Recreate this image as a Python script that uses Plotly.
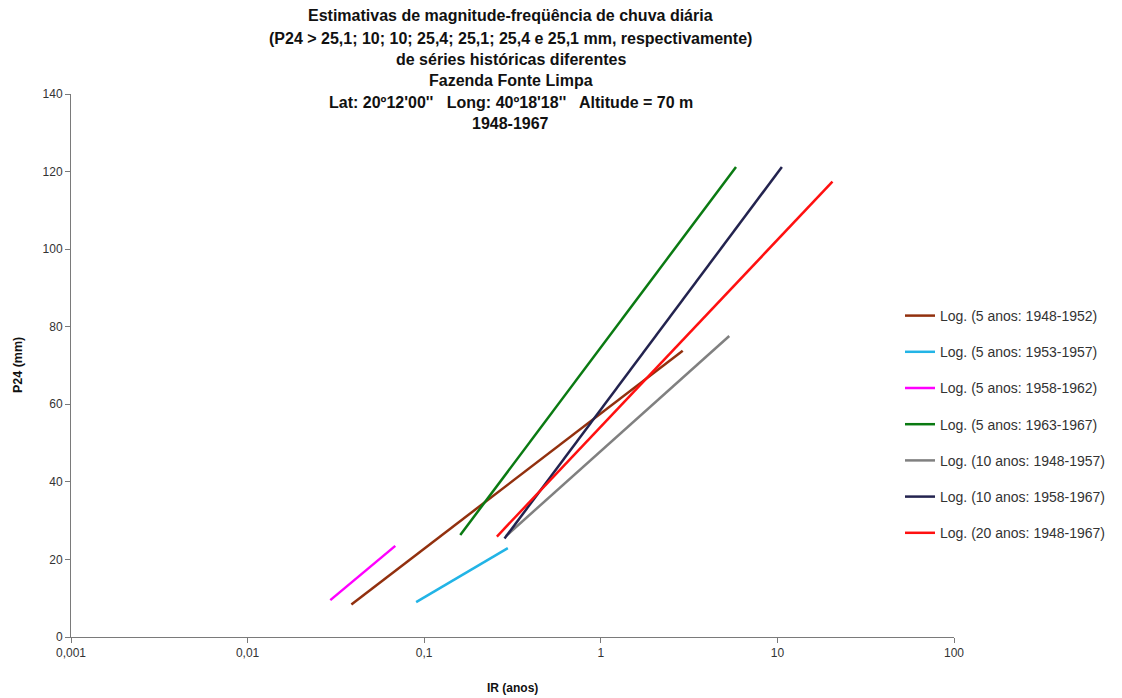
import plotly.graph_objects as go

# ---- data (trendline endpoints) ----
series_names = [
    "Log. (5 anos: 1948-1952)",
    "Log. (5 anos: 1953-1957)",
    "Log. (5 anos: 1958-1962)",
    "Log. (5 anos: 1963-1967)",
    "Log. (10 anos: 1948-1957)",
    "Log. (10 anos: 1958-1967)",
    "Log. (20 anos: 1948-1967)",
]
ir_1948_1952 = [0.0387, 2.91]
p24_1948_1952 = [8.4, 73.8]
ir_1953_1957 = [0.090, 0.2975]
p24_1953_1957 = [9.0, 22.9]
ir_1958_1962 = [0.0294, 0.0686]
p24_1958_1962 = [9.5, 23.5]
ir_1963_1967 = [0.160, 5.83]
p24_1963_1967 = [26.3, 121.2]
ir_1948_1957 = [0.29, 5.34]
p24_1948_1957 = [26.0, 77.6]
ir_1958_1967 = [0.285, 10.6]
p24_1958_1967 = [25.4, 121.2]
ir_1948_1967 = [0.258, 20.5]
p24_1948_1967 = [25.9, 117.4]

series_x = [ir_1948_1952, ir_1953_1957, ir_1958_1962, ir_1963_1967,
            ir_1948_1957, ir_1958_1967, ir_1948_1967]
series_y = [p24_1948_1952, p24_1953_1957, p24_1958_1962, p24_1963_1967,
            p24_1948_1957, p24_1958_1967, p24_1948_1967]
colors = ["#92300E", "#22B4E6", "#FF00FF", "#0A7A12", "#808080", "#23234F", "#FF1010"]

x_tickvals = [0.001, 0.01, 0.1, 1, 10, 100]
x_ticktext = ["0,001", "0,01", "0,1", "1", "10", "100"]
y_tickvals = [0, 20, 40, 60, 80, 100, 120, 140]

title_lines = [
    "Estimativas de magnitude-freqüência de chuva diária",
    "(P24 > 25,1; 10; 10; 25,4; 25,1; 25,4 e 25,1 mm, respectivamente)",
    "de séries históricas diferentes",
    "Fazenda Fonte Limpa",
    "Lat: 20º12'00''   Long: 40º18'18''   Altitude = 70 m",
    "1948-1967",
]

FONT = "Arial, Liberation Sans, sans-serif"
OFF = 8  # default page body margin
W, H = 1122 - OFF, 698 - OFF
PL, PT, PW, PH = 71, 94, 884, 543  # plot area in page pixels
L, T = PL - OFF, PT - OFF
R, B = W - L - PW, H - T - PH


def px(xp):
    return (xp - PL) / PW


def py(yp):
    return (PT + PH - yp) / PH


fig = go.Figure()
for i, (name, xs, ys, c) in enumerate(zip(series_names, series_x, series_y, colors)):
    fig.add_trace(go.Scatter(
        x=xs, y=ys, mode="lines", name=name,
        line=dict(color=c, width=2.5),
        legendgroup=f"g{i}",
    ))

fig.update_layout(
    width=W, height=H,
    margin=dict(l=L, r=R, t=T, b=B),
    paper_bgcolor="white", plot_bgcolor="white",
    font=dict(family=FONT, size=12, color="#222222"),
    showlegend=True,
    legend=dict(
        x=px(900), xanchor="left",
        y=py(300), yanchor="top",
        font=dict(family=FONT, size=14, color="#333333"),
        tracegroupgap=15,
        bgcolor="rgba(0,0,0,0)",
    ),
)
fig.update_xaxes(
    type="log", range=[-3, 2],
    tickvals=x_tickvals, ticktext=x_ticktext,
    showgrid=False, zeroline=False,
    showline=True, linecolor="#7a7a7a", linewidth=1,
    ticks="outside", ticklen=5, tickcolor="#7a7a7a",
    tickfont=dict(family=FONT, size=12, color="#333333"),
)
fig.update_yaxes(
    range=[0, 140], tickvals=y_tickvals,
    showgrid=False, zeroline=False,
    showline=True, linecolor="#7a7a7a", linewidth=1,
    ticks="outside", ticklen=5, tickcolor="#7a7a7a",
    tickfont=dict(family=FONT, size=12, color="#333333"),
)

# Title lines
title_y = [16, 38, 60, 81, 103, 124]
for txt, yp in zip(title_lines, title_y):
    fig.add_annotation(
        text=f"<b>{txt}</b>", xref="paper", yref="paper",
        x=px(511), y=py(yp),
        xanchor="center", yanchor="middle", showarrow=False,
        font=dict(family=FONT, size=16, color="#111111"),
    )

# Axis titles
fig.add_annotation(
    text="<b>IR (anos)</b>", xref="paper", yref="paper",
    x=px(513), y=py(688),
    xanchor="center", yanchor="middle", showarrow=False,
    font=dict(family=FONT, size=12, color="#111111"),
)
fig.add_annotation(
    text="<b>P24 (mm)</b>", xref="paper", yref="paper",
    x=px(18), y=py(365),
    xanchor="center", yanchor="middle", showarrow=False, textangle=-90,
    font=dict(family=FONT, size=12.5, color="#111111"),
)

fig.write_html("out.html")
